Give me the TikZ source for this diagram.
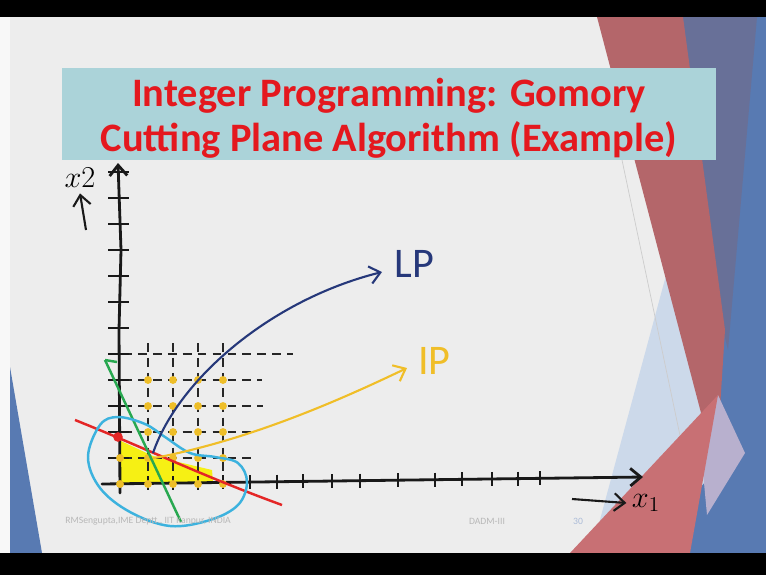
\documentclass[tikz,border=0pt]{standalone}
\usepackage{fontspec}
\usepackage{xcolor}
\usetikzlibrary{arrows.meta}
\newfontfamily\titlefont{Carlito}
\definecolor{slidegray}{RGB}{237,237,237}
\definecolor{boxteal}{RGB}{171,211,217}
\definecolor{titlered}{RGB}{228,24,30}
\definecolor{stripered}{RGB}{180,102,106}
\definecolor{stripegrey}{RGB}{104,112,152}
\definecolor{slideblue}{RGB}{88,122,178}
\definecolor{paleblue}{RGB}{204,217,234}
\definecolor{trired}{RGB}{200,112,116}
\definecolor{lavender}{RGB}{184,176,206}
\definecolor{lpblue}{RGB}{38,56,122}
\definecolor{ipyellow}{RGB}{240,190,40}
\definecolor{latyellow}{RGB}{238,190,40}
\definecolor{fillyellow}{RGB}{246,240,20}
\definecolor{cutgreen}{RGB}{40,168,80}
\definecolor{conred}{RGB}{228,38,38}
\definecolor{blobcyan}{RGB}{60,178,222}

\begin{document}
\begin{tikzpicture}[x=0.02cm, y=-0.02cm,
    titlebox/.style={rectangle, fill=boxteal, minimum width=13.08cm, minimum height=1.84cm},
    titletext/.style={align=center, text=titlered, inner sep=0pt,
      font=\titlefont\bfseries\fontsize{23}{25.5}\selectfont},
    axis/.style={line width=1.6pt, draw=black!90, line cap=round},
    tickmark/.style={line width=1.3pt, draw=black!90},
    gridline/.style={line width=1.3pt, draw=black!85, dash pattern=on 5pt off 3.5pt},
    hand/.style={-{Straight Barb[length=6pt,width=10pt]}, line width=1.2pt},
    lattice/.style={circle, fill=latyellow, inner sep=0pt, minimum size=4.5pt},
    handtext/.style={inner sep=0pt, font=\titlefont\fontsize{24}{24}\selectfont},
    footer/.style={inner sep=0pt, font=\titlefont\fontsize{5.5}{6}\selectfont, text=black!28}
  ]
  \useasboundingbox (0,0) rectangle (766,575);

  % slide and frame
  \fill[slidegray] (0,17) rectangle (766,553);
  \fill[white!60!slidegray] (0,17) rectangle (10,553);
  \fill[slideblue] (10,367) -- (10,553) -- (42,553) -- cycle;

  % right hand decoration
  \fill[slideblue] (683,17) -- (766,17) -- (766,553) -- (660,553) -- cycle;
  \fill[stripegrey] (683,17) -- (757,17) -- (728,350) -- (723,330) -- cycle;
  \fill[paleblue] (668,268) -- (716,470) -- (640,553) -- (591,553) -- cycle;
  \draw[black!20, line width=0.4pt] (622,160) -- (682,445);
  \fill[stripered] (597,17) -- (683,17) -- (725,330) -- (716,470) -- cycle;
  \fill[lavender] (718,395) -- (745,453) -- (707,515) -- (700,440) -- cycle;
  \fill[trired] (570,553) -- (718,395) -- (690,553) -- cycle;

  \fill[black] (0,0) rectangle (766,17);
  \fill[black] (0,553) rectangle (766,575);

  % title
  \node[titlebox] (titlebg) at (389,114) {};
  \node[titletext] (title) at (389,118) {Integer Programming: Gomory\\Cutting Plane Algorithm (Example)};

  % feasible region
  \fill[fillyellow] (121,441) -- (153,456) -- (212,470) -- (213,482) -- (121,484) -- cycle;

  % dashed lattice
  \foreach \gy/\gend in {458/255,432/255,406/263,380/262,354/293}
    \draw[gridline] (123,\gy) -- (\gend,\gy);
  \foreach \gx in {148,173,198,223}
    \draw[gridline] (\gx,343) -- (\gx,484);

  % axes
  \coordinate (origin) at (120,484);
  \coordinate (xonetip) at (643,477);
  \coordinate (xtwotip) at (118,163);
  \draw[axis, -{Straight Barb[length=6pt,width=10pt]}] (102,484) -- (xonetip);
  \draw[axis, -{Straight Barb[length=6pt,width=10pt]}] (120,493) -- (119,330) -- (121,250) -- (xtwotip);
  \foreach \ty in {458,432,...,172}
    \draw[tickmark] (108,\ty) -- (129,\ty);
  \foreach \tx in {148,173,198,223,250,277,303,332,360,398,435,462,492,518,540}
    \draw[tickmark] (\tx,{484-7*(\tx-102)/541-7}) -- ++(0,14);

  % integer points
  \foreach \px in {148,173,198,223}
    \foreach \py in {380,406,432,458,484}
      \node[lattice] (p\px-\py) at (\px,\py) {};
  \node[lattice] (p120-458) at (120,458) {};
  \node[lattice] (p120-484) at (120,484) {};

  % constraint, cut and blob
  \draw[conred, line width=1.4pt] (75,420) .. controls (150,450) and (200,475) .. (282,505);
  \node[circle, fill=conred, inner sep=0pt, minimum size=5.5pt] (reddot) at (118,437) {};
  \draw[cutgreen, line width=1.4pt] (105,360) -- (117,362);
  \draw[cutgreen, line width=1.4pt] (105,360) -- (181,522);
  \draw[blobcyan, line width=1.4pt] plot[smooth cycle, tension=0.6] coordinates
    {(88,457) (100,425) (118,417) (145,424) (165,437) (190,453) (215,457) (238,463)
     (247,482) (238,505) (210,520) (170,526) (130,512) (100,488)};

  % labels
  \coordinate (vertex) at (153,453);
  \node[handtext, text=lpblue, anchor=west] (lplabel) at (394,264) {LP};
  \node[handtext, text=ipyellow, anchor=west] (iplabel) at (418,361) {IP};
  \coordinate (lptip) at (382,272);
  \coordinate (iptip) at (407,368);
  \draw[hand, lpblue] (vertex) .. controls (178,380) and (270,300) .. (lptip);
  \draw[hand, ipyellow] ([yshift=-3]vertex) .. controls (250,440) and (340,400) .. (iptip);

  \node[inner sep=0pt, font=\fontsize{17}{17}\selectfont] (xtwolabel) at (80,178) {$x2$};
  \coordinate (xtwofoot) at (86,230);
  \draw[hand, black!90] (xtwofoot) -- ([yshift=-3]xtwolabel.south);
  \node[inner sep=0pt, font=\fontsize{17}{17}\selectfont] (xonelabel) at (646,503) {$x_1$};
  \coordinate (xonefoot) at (572,499);
  \draw[hand, black!90] (xonefoot) -- ([xshift=-3]xonelabel.west);

  % footer
  \node[footer, anchor=west] (author) at (65,521) {RMSengupta,IME Deptt., IIT Kanpur, INDIA};
  \node[footer] (course) at (487,521) {DADM-III};
  \node[footer, text=slideblue!50] (pageno) at (578,521) {30};
\end{tikzpicture}
\end{document}
